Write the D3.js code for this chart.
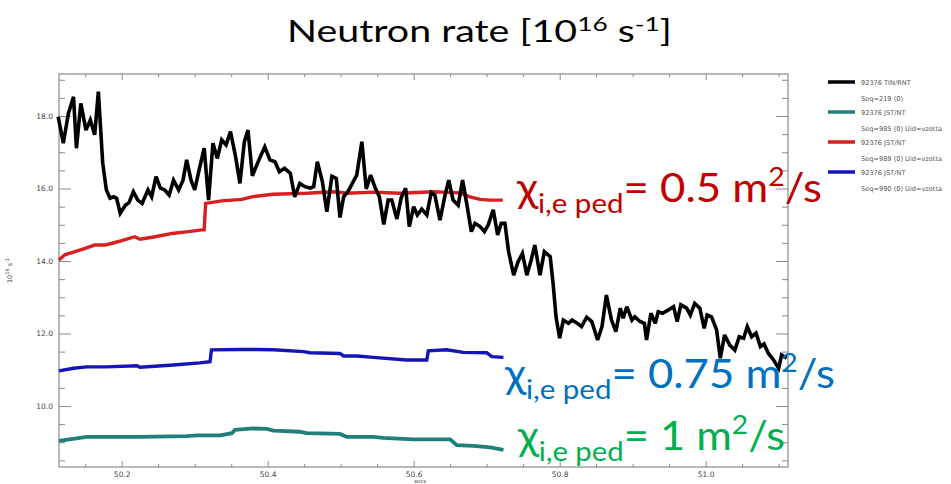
<!DOCTYPE html>
<html><head><meta charset="utf-8">
<script src="https://cdn.jsdelivr.net/npm/d3@7"></script>
<style>body{margin:0;background:#fff;} svg{display:block}</style>
</head><body>
<svg id="c" width="951" height="484"></svg>
<script>
// ---- data (time in s, rate in 1e16 /s) ----
const blackT = [50.113,50.120,50.127,50.134,50.138,50.144,50.151,50.157,50.163,50.168,
50.174,50.179,50.184,50.189,50.193,50.198,50.205,50.210,50.216,50.222,
50.228,50.236,50.241,50.247,50.253,50.259,50.265,50.271,50.278,50.284,
50.289,50.295,50.300,50.306,50.313,50.319,50.325,50.331,50.337,50.343,
50.349,50.356,50.362,50.368,50.373,50.379,50.388,50.396,50.403,50.410,
50.416,50.423,50.431,50.437,50.444,50.451,50.458,50.463,50.468,50.475,
50.481,50.488,50.494,50.499,50.504,50.510,50.516,50.522,50.529,50.535,
50.541,50.547,50.553,50.559,50.565,50.570,50.577,50.583,50.589,50.594,
50.600,50.605,50.611,50.618,50.624,50.629,50.636,50.643,50.648,50.654,
50.661,50.667,50.673,50.679,50.684,50.691,50.697,50.702,50.709,50.715,
50.720,50.725,50.730,50.737,50.743,50.749,50.755,50.761,50.766,50.773,
50.779,50.787,50.791,50.795,50.800,50.805,50.812,50.817,50.824,50.830,
50.837,50.844,50.852,50.858,50.864,50.871,50.877,50.883,50.887,50.892,
50.899,50.903,50.910,50.916,50.919,50.925,50.931,50.935,50.941,50.949,
50.956,50.961,50.966,50.974,50.979,50.985,50.992,50.998,51.002,51.008,
51.015,51.020,51.026,51.033,51.040,51.046,51.052,51.057,51.063,51.069,
51.075,51.080,51.086,51.093,51.100,51.104,51.111];
const blackV = [17.98,17.25,18.07,18.53,17.11,18.35,17.61,17.89,17.48,18.67,
16.70,15.96,15.73,15.77,15.73,15.32,15.54,15.61,15.91,15.68,
15.59,15.96,15.77,16.33,16.01,15.96,15.82,16.23,15.96,16.23,
16.79,16.23,15.96,16.51,17.11,15.68,17.25,16.83,17.34,17.20,
17.57,16.88,16.14,17.29,17.61,16.35,16.79,17.15,16.79,16.74,
16.46,16.56,16.42,15.77,16.14,16.05,16.01,16.05,16.74,16.18,
15.36,16.34,16.28,15.20,15.77,15.92,16.14,16.37,17.29,15.99,
16.37,16.03,15.77,15.01,15.68,15.68,15.16,15.75,16.01,14.95,
15.50,15.27,15.43,15.27,15.89,15.82,15.13,15.82,16.23,15.68,
15.54,16.23,15.54,14.81,15.04,14.95,14.81,14.99,15.41,14.72,
15.04,15.04,14.26,13.61,13.98,14.21,13.61,14.03,14.44,13.61,
14.26,14.12,13.38,12.46,11.87,12.37,12.28,12.37,12.28,12.19,
12.45,12.33,11.82,12.19,13.06,12.37,12.05,12.70,12.42,12.74,
12.37,12.46,12.33,12.28,11.82,12.56,12.28,12.60,12.56,12.65,
12.74,12.33,12.79,12.70,12.51,12.83,12.70,12.14,12.51,12.46,
12.10,11.32,11.96,11.68,11.54,11.91,11.87,12.19,11.91,12.01,
11.64,11.71,11.45,11.27,11.04,11.41,11.32];

const redT = [50.114,50.122,50.136,50.150,50.163,50.177,50.187,50.200,50.218,50.225,50.246,50.269,50.291,50.310,50.313,50.315,50.337,50.365,50.378,50.407,50.454,50.490,50.509,50.544,50.581,50.627,50.664,50.677,50.691,50.705,50.722];
const redV = [14.03,14.17,14.26,14.35,14.44,14.44,14.49,14.56,14.67,14.60,14.67,14.76,14.81,14.86,14.86,15.59,15.66,15.70,15.77,15.84,15.87,15.91,15.87,15.90,15.87,15.91,15.88,15.77,15.70,15.68,15.68];

const blueT = [50.114,50.134,50.152,50.179,50.221,50.225,50.271,50.307,50.321,50.323,50.362,50.385,50.408,50.449,50.458,50.499,50.504,50.522,50.545,50.590,50.618,50.620,50.645,50.668,50.700,50.707,50.723];
const blueV = [10.97,11.04,11.08,11.08,11.11,11.07,11.13,11.19,11.22,11.55,11.56,11.56,11.55,11.50,11.47,11.45,11.38,11.38,11.34,11.27,11.27,11.52,11.55,11.48,11.47,11.36,11.34];

const tealT = [50.114,50.152,50.225,50.289,50.303,50.335,50.351,50.355,50.380,50.399,50.408,50.444,50.453,50.499,50.508,50.545,50.558,50.600,50.650,50.659,50.682,50.705,50.723];
const tealV = [9.04,9.15,9.15,9.17,9.19,9.19,9.25,9.34,9.38,9.37,9.32,9.29,9.25,9.23,9.15,9.15,9.12,9.08,9.08,8.92,8.90,8.86,8.79];

const yMajor = [10, 12, 14, 16, 18];
const xMajor = [50.2, 50.4, 50.6, 50.8, 51.0];

const legendNames = ["92376 TIN/RNT", "92376 JST/NT", "92376 JST/NT", "92376 JST/NT"];
const legendSubs = ["Seq=219 (0)", "Seq=985 (0) Uid=vzotta", "Seq=989 (0) Uid=vzotta", "Seq=990 (0) Uid=vzotta"];
const legendColors = ["#000000", "#1f7f7a", "#d81e1e", "#1414b8"];

const annoValues = ["0.5", "0.75", "1"];
const annoColors = ["#c00000", "#0070c0", "#00b050"];

// ---- layout ----
const svg = d3.select("#c");
const M = {l:59, t:74, r:788, b:467};
const x = d3.scaleLinear().domain([50.1141, 51.1128]).range([M.l, M.r]);
const y = d3.scaleLinear().domain([8.317, 19.159]).range([M.b, M.t]);
const FONT = "Lato, 'Open Sans', sans-serif";

function fitWidth(sel, x0, target){
  const w = sel.node().getComputedTextLength();
  const s = target / w;
  sel.attr("transform", `translate(${x0},0) scale(${s},1) translate(${-x0},0)`);
}

// title
const title = svg.append("text").attr("x", 287).attr("y", 42)
  .attr("font-family", FONT).attr("font-size", 30).attr("fill", "#000");
title.append("tspan").text("Neutron rate [10");
title.append("tspan").attr("font-size", 20).attr("dy", -11).text("16");
title.append("tspan").attr("dy", 11).text(" s");
title.append("tspan").attr("font-size", 20).attr("dy", -11).text("-1");
title.append("tspan").attr("dy", 11).text("]");
fitWidth(title, 287, 385);

// axes ticks
const tickCol = "#8a8a8a";
const g = svg.append("g");
const yMinor = d3.range(8.5, 19.1, 0.5).filter(v => !yMajor.includes(v));
const xMinor = d3.range(50.15, 51.11, 0.05).map(v => +v.toFixed(2)).filter(v => !xMajor.some(m => Math.abs(m - v) < 1e-6));

function axisGroup(axis, tx, ty){
  const a = g.append("g").attr("transform", `translate(${tx},${ty})`).call(axis);
  a.select(".domain").remove();
  a.selectAll("line").attr("stroke", tickCol);
  a.selectAll("text").attr("font-family", "'DejaVu Sans', sans-serif").attr("font-size", 7.5).attr("fill", "#444");
  return a;
}
axisGroup(d3.axisLeft(y).tickValues(yMajor).tickSizeInner(-12).tickSizeOuter(0).tickPadding(6).tickFormat(d3.format(".1f")), M.l, 0);
axisGroup(d3.axisLeft(y).tickValues(yMinor).tickSizeInner(-6).tickSizeOuter(0).tickFormat(""), M.l, 0);
axisGroup(d3.axisRight(y).tickValues(yMajor).tickSizeInner(-12).tickSizeOuter(0).tickFormat(""), M.r, 0);
axisGroup(d3.axisRight(y).tickValues(yMinor).tickSizeInner(-6).tickSizeOuter(0).tickFormat(""), M.r, 0);
axisGroup(d3.axisBottom(x).tickValues(xMajor).tickSizeInner(-6).tickSizeOuter(0).tickPadding(5).tickFormat(d3.format(".1f")), 0, M.b);
axisGroup(d3.axisBottom(x).tickValues(xMinor).tickSizeInner(-3).tickSizeOuter(0).tickFormat(""), 0, M.b);
axisGroup(d3.axisTop(x).tickValues(xMajor).tickSizeInner(-6).tickSizeOuter(0).tickFormat(""), 0, M.t);
axisGroup(d3.axisTop(x).tickValues(xMinor).tickSizeInner(-3).tickSizeOuter(0).tickFormat(""), 0, M.t);

svg.append("rect").attr("x", M.l).attr("y", M.t).attr("width", M.r - M.l).attr("height", M.b - M.t)
  .attr("fill", "none").attr("stroke", tickCol).attr("stroke-width", 1.2);

// axis titles
const yl = svg.append("text").attr("transform", `translate(12,${(M.t+M.b)/2}) rotate(-90)`)
  .attr("text-anchor", "middle").attr("font-family", "'DejaVu Sans', sans-serif").attr("font-size", 6.5).attr("fill", "#444");
yl.append("tspan").text("10");
yl.append("tspan").attr("font-size", 5).attr("dy", -3).text("16");
yl.append("tspan").attr("dy", 3).text("  s");
yl.append("tspan").attr("font-size", 5).attr("dy", -3).text("-1");
svg.append("text").attr("x", 420).attr("y", 483).attr("text-anchor", "middle")
  .attr("font-family", "'DejaVu Sans', sans-serif").attr("font-size", 5.5).attr("fill", "#444").text("secs");

// series
const line = d3.line().x(d => x(d[0])).y(d => y(d[1]));
const series = [
  {t: tealT, v: tealV, c: legendColors[1], w: 3.8},
  {t: blueT, v: blueV, c: legendColors[3], w: 3.4},
  {t: redT, v: redV, c: legendColors[2], w: 3.4},
  {t: blackT, v: blackV, c: legendColors[0], w: 3.6}
];
series.forEach(s => {
  svg.append("path").datum(s.t.map((t, i) => [t, s.v[i]]))
    .attr("d", line).attr("fill", "none").attr("stroke", s.c)
    .attr("stroke-width", s.w).attr("stroke-linejoin", "miter").attr("stroke-miterlimit", 3);
});

// legend
const lg = svg.append("g");
legendNames.forEach((n, i) => {
  const yy = 82 + i * 30;
  lg.append("line").attr("x1", 828).attr("x2", 855).attr("y1", yy).attr("y2", yy)
    .attr("stroke", legendColors[i]).attr("stroke-width", 3.5);
  lg.append("text").attr("x", 861).attr("y", yy + 3).text(n);
  lg.append("text").attr("x", 861).attr("y", yy + 19).text(legendSubs[i]);
});
lg.selectAll("text").attr("font-family", "'DejaVu Sans', sans-serif").attr("font-size", 6.6).attr("fill", "#555");

// annotations
const annoPos = [{x: 517, y: 202, w: 305}, {x: 505, y: 388, w: 330}, {x: 518, y: 450, w: 267}];
annoValues.forEach((v, i) => {
  const p = annoPos[i];
  const t = svg.append("text").attr("x", p.x).attr("y", p.y)
    .attr("font-family", FONT).attr("font-size", 40).attr("fill", annoColors[i]);
  t.append("tspan").text("χ");
  t.append("tspan").attr("font-size", 27).attr("dy", 11).text("i,e ped");
  t.append("tspan").attr("dy", -11).text("= " + v + " m");
  t.append("tspan").attr("font-size", 26).attr("dy", -16).text("2");
  t.append("tspan").attr("dy", 16).text("/s");
  fitWidth(t, p.x, p.w);
});
</script>
</body></html>
